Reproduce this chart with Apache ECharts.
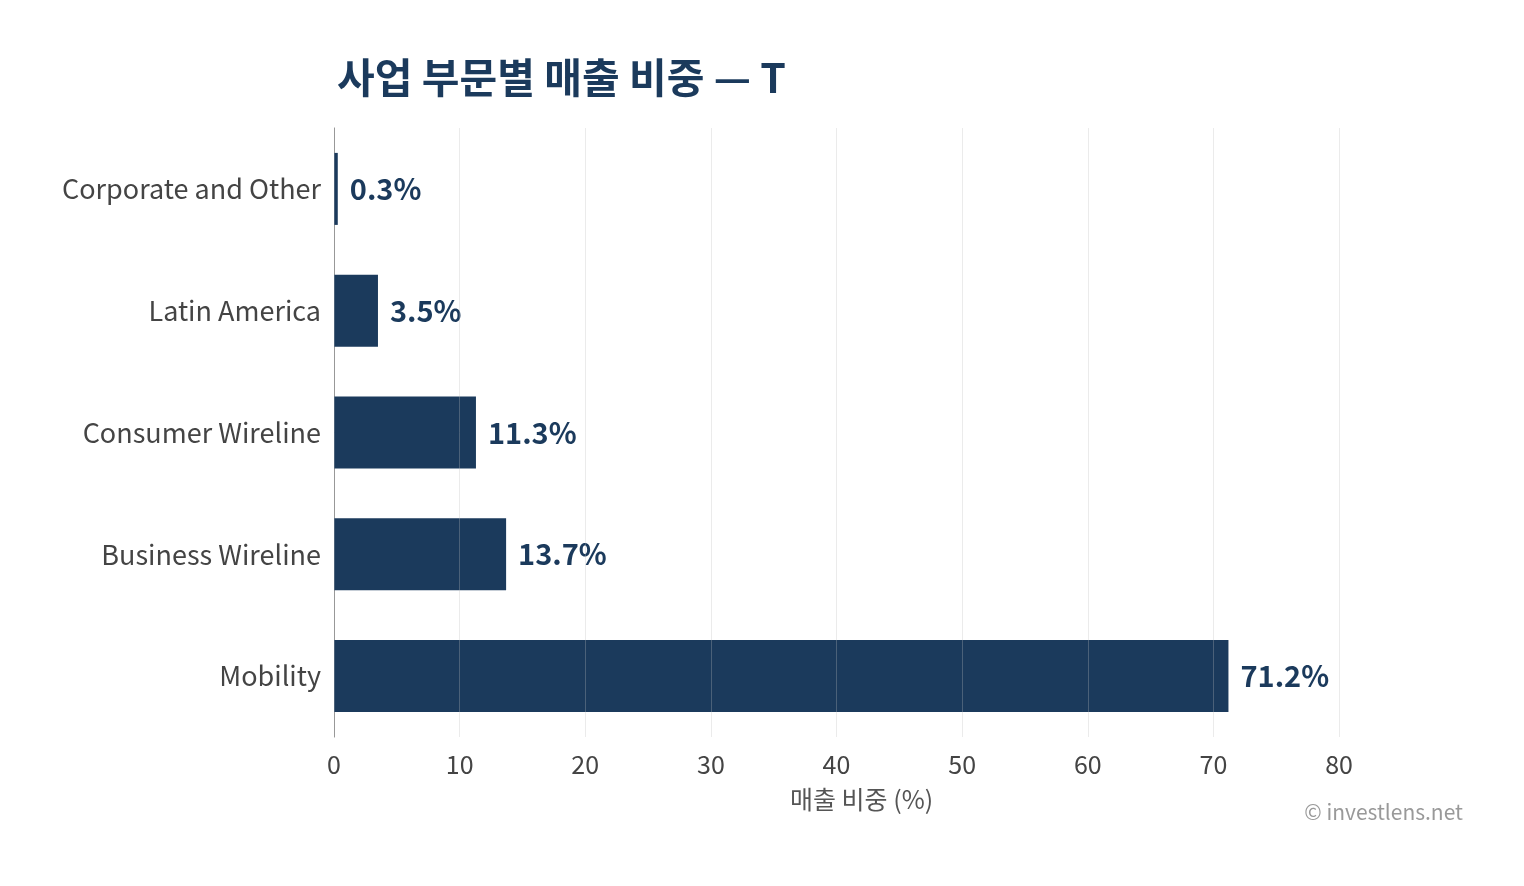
<!DOCTYPE html>
<html>
<head>
<meta charset="utf-8">
<script src="https://cdn.jsdelivr.net/npm/echarts@6/dist/echarts.min.js"></script>
<style>
  html, body { margin: 0; padding: 0; background: #fff; }
  #chart { width: 1524px; height: 886px; }
</style>
</head>
<body>
<div id="chart"></div>
<script>
// bottom to top, as drawn
const categories = ["Mobility", "Business Wireline", "Consumer Wireline", "Latin America", "Corporate and Other"];
const shares = [71.2, 13.7, 11.3, 3.5, 0.3];
const xTicks = [0, 10, 20, 30, 40, 50, 60, 70, 80];

const NAVY = "#1b3a5c";
const FONT = "Noto Sans CJK KR";

const chart = echarts.init(document.getElementById("chart"));

chart.setOption({
  backgroundColor: "#fff",
  textStyle: { fontFamily: FONT },
  title: {
    text: "사업 부문별 매출 비중 — T",
    left: 332,
    top: 52,
    textStyle: { fontFamily: FONT, fontSize: 41, fontWeight: "bold", color: NAVY },
  },
  grid: {
    left: 334,
    width: 1005,
    top: 128,
    height: 609,
  },
  graphic: [
    {
      type: "text",
      left: 790,
      top: 787,
      style: { text: "매출 비중 (%)", fontFamily: FONT, fontSize: 25, fill: "#555" },
    },
    {
      type: "text",
      right: 61,
      top: 802,
      style: { text: "© investlens.net", fontFamily: FONT, fontSize: 21, fill: "#999" },
    },
  ],
  xAxis: {
    type: "value",
    min: xTicks[0],
    max: xTicks[xTicks.length - 1],
    interval: 10,
    z: 10,
    axisLine: { show: false },
    axisTick: { show: false },
    axisLabel: { fontFamily: FONT, fontSize: 25, color: "#444", margin: 15 },
    splitLine: {
      show: true,
      lineStyle: { color: "rgba(190,190,190,0.3)", width: 1 },
    },
  },
  yAxis: {
    type: "category",
    data: categories,
    axisLine: { show: true, lineStyle: { color: "#888", width: 1 } },
    axisTick: { show: false },
    axisLabel: { fontFamily: FONT, fontSize: 27, color: "#444", margin: 13 },
    splitLine: { show: false },
  },
  series: [
    {
      type: "bar",
      data: shares,
      barWidth: 72,
      itemStyle: { color: NAVY },
      label: {
        show: true,
        position: "right",
        distance: 12,
        formatter: (p) => p.value.toFixed(1) + "%",
        fontFamily: FONT,
        fontSize: 29,
        fontWeight: "bold",
        color: NAVY,
      },
    },
  ],
});
</script>
</body>
</html>
